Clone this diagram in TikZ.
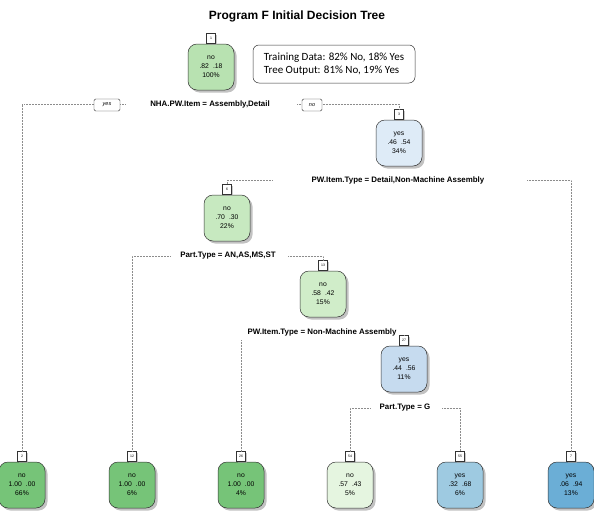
\documentclass[tikz,border=0pt]{standalone}
\usepackage{fontspec}
\setmainfont{Liberation Sans}
\newfontfamily\legendfont{Carlito}
\usetikzlibrary{shadows}
\definecolor{gA}{RGB}{184,226,177}
\definecolor{gB}{RGB}{199,233,192}
\definecolor{gC}{RGB}{208,237,201}
\definecolor{gD}{RGB}{229,245,224}
\definecolor{gLeaf}{RGB}{118,196,120}
\definecolor{bA}{RGB}{222,235,247}
\definecolor{bB}{RGB}{198,219,239}
\definecolor{bC}{RGB}{158,202,225}
\definecolor{bD}{RGB}{107,174,214}
\begin{document}
\begin{tikzpicture}[x=1pt,y=-1pt,
  treenode/.style={draw=black!80, line width=0.5pt, rounded corners=9pt,
    minimum width=46pt, minimum height=46pt, inner sep=0pt, align=center,
    font=\fontsize{6.8}{9}\selectfont,
    drop shadow={shadow xshift=2.5pt, shadow yshift=-2.5pt, fill=black!40, opacity=0.6}},
  numbox/.style={draw=black!80, line width=0.4pt, fill=white, minimum width=9pt, minimum height=10pt,
    inner sep=0pt, anchor=south, font=\fontsize{3.5}{4}\selectfont,
    drop shadow={shadow xshift=1.5pt, shadow yshift=-1.5pt, fill=black!35, opacity=0.6}},
  splitlbl/.style={font=\bfseries\fontsize{7.9}{9}\selectfont, inner sep=1pt},
  conn/.style={draw=black!45, densely dotted, line width=0.5pt},
  edgelbl/.style={draw=black!80, line width=0.4pt, fill=white, rounded corners=1.5pt,
    minimum height=12pt, inner sep=1pt, font=\itshape\fontsize{5.5}{6}\selectfont}
]
\useasboundingbox (0,0) rectangle (594,522);

% title
\node[font=\bfseries\fontsize{12}{14}\selectfont] (title) at (297,16) {Program F Initial Decision Tree};

% legend
\node[draw=black!80, line width=0.5pt, rounded corners=6pt, minimum width=162pt, minimum height=38pt,
  align=left, font=\legendfont\fontsize{11}{13}\selectfont] (legend) at (334,64)
  {Training Data: 82\% No, 18\% Yes\\Tree Output: 81\% No, 19\% Yes};

% internal nodes
\node[treenode, fill=gA] (n1) at (211,67) {no\\.82\hspace{4pt}.18\\100\%};
\node[numbox] (k1) at (n1.north) {1};
\node[treenode, fill=bA] (n3) at (399,143) {yes\\.46\hspace{4pt}.54\\34\%};
\node[numbox] (k3) at (n3.north) {3};
\node[treenode, fill=gB] (n6) at (227,218) {no\\.70\hspace{4pt}.30\\22\%};
\node[numbox] (k6) at (n6.north) {6};
\node[treenode, fill=gC] (n13) at (323,294) {no\\.58\hspace{4pt}.42\\15\%};
\node[numbox] (k13) at (n13.north) {13};
\node[treenode, fill=bB] (n27) at (404,369) {yes\\.44\hspace{4pt}.56\\11\%};
\node[numbox] (k27) at (n27.north) {27};

% leaves
\node[treenode, fill=gLeaf] (n2) at (22,485) {no\\1.00\hspace{4pt}.00\\66\%};
\node[numbox] (k2) at (n2.north) {2};
\node[treenode, fill=gLeaf] (n12) at (132,485) {no\\1.00\hspace{4pt}.00\\6\%};
\node[numbox] (k12) at (n12.north) {12};
\node[treenode, fill=gLeaf] (n26) at (241,485) {no\\1.00\hspace{4pt}.00\\4\%};
\node[numbox] (k26) at (n26.north) {26};
\node[treenode, fill=gD] (n54) at (350,485) {no\\.57\hspace{4pt}.43\\5\%};
\node[numbox] (k54) at (n54.north) {54};
\node[treenode, fill=bC] (n55) at (460,485) {yes\\.32\hspace{4pt}.68\\6\%};
\node[numbox] (k55) at (n55.north) {55};
\node[treenode, fill=bD] (n7) at (571,485) {yes\\.06\hspace{4pt}.94\\13\%};
\node[numbox] (k7) at (n7.north) {7};

% split labels
\node[splitlbl] (s1) at (210,104) {NHA.PW.Item = Assembly,Detail};
\node[splitlbl] (s3) at (398,180) {PW.Item.Type = Detail,Non-Machine Assembly};
\node[splitlbl] (s6) at (228,256) {Part.Type = AN,AS,MS,ST};
\node[splitlbl] (s13) at (322,332) {PW.Item.Type = Non-Machine Assembly};
\node[splitlbl] (s27) at (405,408) {Part.Type = G};

% connector start points
\coordinate (c1l) at (125,104);
\coordinate (c1r) at (297,104);
\coordinate (c3l) at (272,180);
\coordinate (c3r) at (527,180);
\coordinate (c6l) at (170,256);
\coordinate (c6r) at (288,256);
\coordinate (c13l) at (241,340);
\coordinate (c13r) at (404,335);
\coordinate (c27l) at (370,408);
\coordinate (c27r) at (442,408);

\draw[conn] (c1l) -| (k2.north);
\draw[conn] (c1r) -| (k3.north);
\draw[conn] (c3l) -| (k6.north);
\draw[conn] (c3r) -| (k7.north);
\draw[conn] (c6l) -| (k12.north);
\draw[conn] (c6r) -| (k13.north);
\draw[conn] (c13l) -- (k26.north);
\draw[conn] (c13r) -- (k27.north);
\draw[conn] (c27l) -| (k54.north);
\draw[conn] (c27r) -| (k55.north);

% yes / no labels
\node[edgelbl, minimum width=26pt] (yes) at (107,105) {yes};
\node[edgelbl, minimum width=20pt] (no) at (312,105) {no};
\end{tikzpicture}
\end{document}
